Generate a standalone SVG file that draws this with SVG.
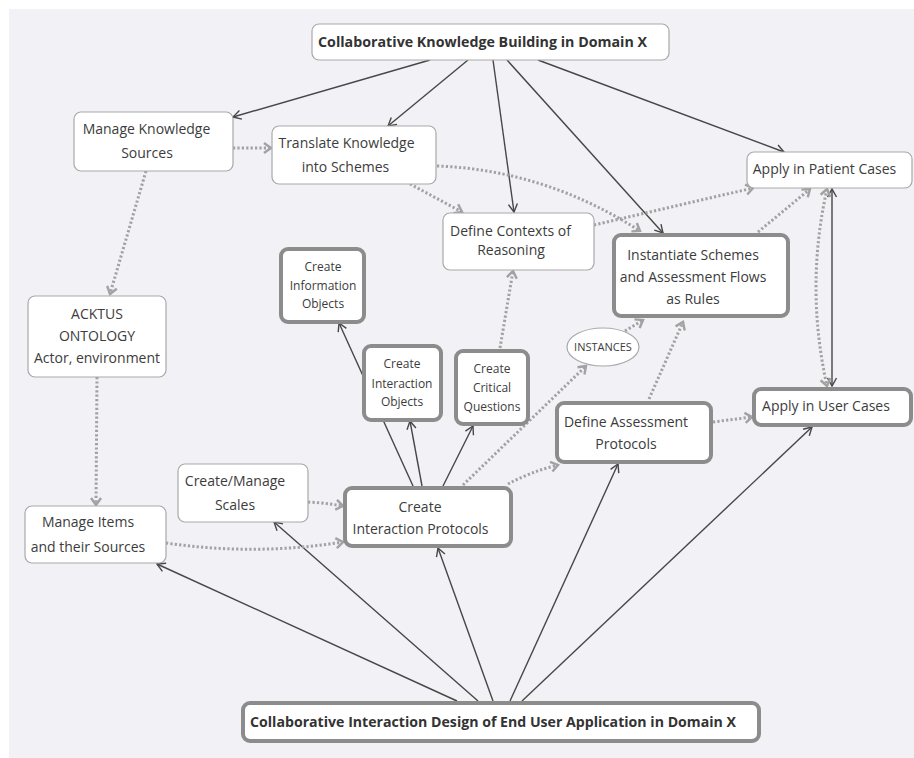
<svg xmlns="http://www.w3.org/2000/svg" width="914" height="758" viewBox="0 0 914 758">
<defs>
<style>
.n{fill:#fff;stroke:#a9a9a9;stroke-width:1.2}
.k{fill:#fff;stroke:#8c8c8c;stroke-width:4}
.t{font-family:"Open Sans","Noto Sans",sans-serif;font-size:14px;fill:#3c3c3c;text-anchor:middle}
.s{font-size:12px}
.b{font-family:"Open Sans","Noto Sans",sans-serif;font-size:15px;font-weight:bold;fill:#333;text-anchor:middle}
.c{fill:none;stroke:#474747;stroke-width:1.4}
.d{fill:none;stroke:#a2a2a2;stroke-width:3;stroke-dasharray:2.2 2.2}
</style>
<marker id="as" viewBox="-10 -6 12 12" refX="0" refY="0" markerWidth="12" markerHeight="12" markerUnits="userSpaceOnUse" orient="auto-start-reverse">
<path d="M-8,-4.5 L0,0 L-8,4.5" fill="none" stroke="#474747" stroke-width="1.4"/>
</marker>
<marker id="ad" viewBox="-11 -7 13 14" refX="0" refY="0" markerWidth="13" markerHeight="14" markerUnits="userSpaceOnUse" orient="auto-start-reverse">
<path d="M-7,-5 L0,0 L-7,5" fill="none" stroke="#a2a2a2" stroke-width="2.4"/>
</marker>
</defs>
<rect x="0" y="0" width="914" height="758" fill="#fff"/>
<rect x="9" y="9" width="905" height="749" fill="#f1f1f6"/>

<g id="connectors">
<path class="c" d="M430,60 L233,117" marker-end="url(#as)"/>
<path class="c" d="M468,60 L388,126" marker-end="url(#as)"/>
<path class="c" d="M493,60 L514,212" marker-end="url(#as)"/>
<path class="c" d="M507,60 L663,233" marker-end="url(#as)"/>
<path class="c" d="M538,60 L784,152" marker-end="url(#as)"/>
<path class="c" d="M413,486 L339,323" marker-end="url(#as)"/>
<path class="c" d="M422,486 L410,421" marker-end="url(#as)"/>
<path class="c" d="M443,486 L473,426" marker-end="url(#as)"/>
<path class="c" d="M457,701 L157,564" marker-end="url(#as)"/>
<path class="c" d="M478,701 L274,522" marker-end="url(#as)"/>
<path class="c" d="M493,701 L438,548" marker-end="url(#as)"/>
<path class="c" d="M510,701 L618,464" marker-end="url(#as)"/>
<path class="c" d="M522,701 L812,427" marker-end="url(#as)"/>
<path class="c" d="M832,386 L832,189" marker-start="url(#as)" marker-end="url(#as)"/>

<path class="d" d="M233,148 L271,148" marker-end="url(#ad)"/>
<path class="d" d="M146,171 L110,294" marker-end="url(#ad)"/>
<path class="d" d="M97,377 L96,505" marker-end="url(#ad)"/>
<path class="d" d="M166,543 Q255,556 343,542" marker-end="url(#ad)"/>
<path class="d" d="M308,502 Q326,503 343,506" marker-end="url(#ad)"/>
<path class="d" d="M410,184 L462,212" marker-end="url(#ad)"/>
<path class="d" d="M437,166 Q545,170 640,231" marker-end="url(#ad)"/>
<path class="d" d="M594,225 L753,188" marker-end="url(#ad)"/>
<path class="d" d="M758,232 L810,189" marker-end="url(#ad)"/>
<path class="d" d="M500,348 L513,271" marker-end="url(#ad)"/>
<path class="d" d="M463,485 L586,366" marker-end="url(#ad)"/>
<path class="d" d="M625,331 L643,320" marker-end="url(#ad)"/>
<path class="d" d="M508,484 Q530,472 558,465" marker-end="url(#ad)"/>
<path class="d" d="M649,399 L683,322" marker-end="url(#ad)"/>
<path class="d" d="M713,422 L752,417" marker-end="url(#ad)"/>
<path class="d" d="M827,189 Q805,287 827,386" marker-start="url(#ad)" marker-end="url(#ad)"/>
</g>

<g id="kb">
<rect class="n" x="312" y="24" width="357" height="36" rx="7"/>
<text class="b" x="482.5" y="47" textLength="329" lengthAdjust="spacingAndGlyphs">Collaborative Knowledge Building in Domain X</text>
</g>
<g id="mks">
<rect class="n" x="74" y="112" width="159" height="59" rx="7"/>
<text class="t" x="146.5" y="134">Manage Knowledge</text>
<text class="t" x="147" y="158">Sources</text>
</g>
<g id="tks">
<rect class="n" x="272" y="126" width="164" height="58" rx="7"/>
<text class="t" x="346.5" y="148">Translate Knowledge</text>
<text class="t" x="345.5" y="172">into Schemes</text>
</g>
<g id="dcr">
<rect class="n" x="443" y="213" width="151" height="57" rx="7"/>
<text class="t" x="510.5" y="236">Define Contexts of</text>
<text class="t" x="511" y="255">Reasoning</text>
</g>
<g id="apc">
<rect class="n" x="747" y="152" width="165" height="36" rx="7"/>
<text class="t" x="824.5" y="174">Apply in Patient Cases</text>
</g>
<g id="isr">
<rect class="k" x="614" y="235" width="174" height="81" rx="7"/>
<text class="t" x="693" y="260">Instantiate Schemes</text>
<text class="t" x="693" y="282">and Assessment Flows</text>
<text class="t" x="693" y="304">as Rules</text>
</g>
<g id="cio">
<rect class="k" x="281" y="249" width="83" height="73" rx="7"/>
<text class="t s" x="323" y="271">Create</text>
<text class="t s" x="323" y="290">Information</text>
<text class="t s" x="323" y="308">Objects</text>
</g>
<g id="cino">
<rect class="k" x="364" y="346" width="77" height="74" rx="7"/>
<text class="t s" x="402" y="368">Create</text>
<text class="t s" x="402" y="388">Interaction</text>
<text class="t s" x="402" y="406">Objects</text>
</g>
<g id="ccq">
<rect class="k" x="456" y="351" width="72" height="73" rx="7"/>
<text class="t s" x="492" y="373">Create</text>
<text class="t s" x="492" y="392">Critical</text>
<text class="t s" x="492" y="411">Questions</text>
</g>
<g id="inst">
<ellipse cx="603" cy="347" rx="36" ry="19" fill="#fff" stroke="#a9a9a9" stroke-width="1.2"/>
<text class="t" style="font-size:11px" x="603" y="351">INSTANCES</text>
</g>
<g id="dap">
<rect class="k" x="557" y="403" width="154" height="59" rx="7"/>
<text class="t" x="626" y="427">Define Assessment</text>
<text class="t" x="626" y="449">Protocols</text>
</g>
<g id="auc">
<rect class="k" x="754" y="389" width="157" height="36" rx="7"/>
<text class="t" x="826" y="411">Apply in User Cases</text>
</g>
<g id="ack">
<rect class="n" x="28" y="296" width="138" height="81" rx="7"/>
<text class="t" x="97" y="319">ACKTUS</text>
<text class="t" x="97" y="341">ONTOLOGY</text>
<text class="t" x="97" y="363">Actor, environment</text>
</g>
<g id="mis">
<rect class="n" x="25" y="506" width="141" height="57" rx="7"/>
<text class="t" x="88" y="527">Manage Items</text>
<text class="t" x="88" y="552">and their Sources</text>
</g>
<g id="cms">
<rect class="n" x="178" y="464" width="130" height="58" rx="7"/>
<text class="t" x="235" y="486">Create/Manage</text>
<text class="t" x="235" y="510">Scales</text>
</g>
<g id="cip">
<rect class="k" x="345" y="488" width="166" height="58" rx="7"/>
<text class="t" x="420" y="512">Create</text>
<text class="t" x="420.5" y="534">Interaction Protocols</text>
</g>
<g id="ciu">
<rect class="k" x="243" y="703" width="516" height="38" rx="7"/>
<text class="b" x="493" y="727" textLength="486" lengthAdjust="spacingAndGlyphs">Collaborative Interaction Design of End User Application in Domain X</text>
</g>
</svg>
